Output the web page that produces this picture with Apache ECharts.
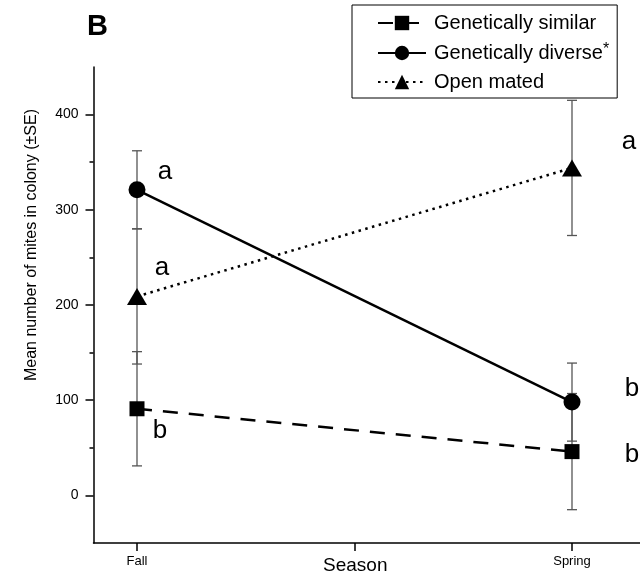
<!DOCTYPE html>
<html><head><meta charset="utf-8">
<script src="https://cdn.jsdelivr.net/npm/echarts@6/dist/echarts.min.js"></script>
<style>html,body{margin:0;padding:0;background:#fff}#c{width:640px;height:578px}</style>
</head><body><div id="c"></div>
<script>
// ---- data ----
const seasonPos = [1, 3];            // Fall, Spring
const seasonTicks = [1, 2, 3];
const seasonNames = {1: 'Fall', 3: 'Spring'};
const seriesNames = ['Genetically similar', 'Genetically diverse', 'Open mated'];
const similarMean = [91, 46];
const similarSE = [60, 61];
const diverseMean = [321, 98];
const diverseSE = [41, 41];
const openMean = [209, 344];
const openSE = [71, 71];
const similarLetters = ['b', 'b'];
const diverseLetters = ['a', 'b'];
const openLetters = ['a', 'a'];
const yMajorTicks = [0, 100, 200, 300, 400];
const yMinorTicks = [50, 150, 250, 350];

const FONT = '"Liberation Sans", Arial, sans-serif';

function lineData(means, letters, offsets) {
  return seasonPos.map((x, i) => ({
    value: [x, means[i]],
    label: {formatter: letters[i], offset: offsets[i]}
  }));
}
function errData(means, ses) {
  return seasonPos.map((x, i) => [x, means[i] - ses[i], means[i] + ses[i]]);
}
function errSeries(means, ses) {
  return {
    type: 'custom', silent: true, z: 1,
    renderItem: (params, api) => {
      const x = api.value(0), lo = api.value(1), hi = api.value(2);
      const p1 = api.coord([x, hi]), p2 = api.coord([x, lo]);
      const w = 5, st = {stroke: '#555', lineWidth: 1.3};
      return {type: 'group', children: [
        {type: 'line', shape: {x1: p1[0], y1: p1[1], x2: p2[0], y2: p2[1]}, style: st},
        {type: 'line', shape: {x1: p1[0] - w, y1: p1[1], x2: p1[0] + w, y2: p1[1]}, style: st},
        {type: 'line', shape: {x1: p2[0] - w, y1: p2[1], x2: p2[0] + w, y2: p2[1]}, style: st}
      ]};
    },
    encode: {x: 0, y: [1, 2]},
    data: errData(means, ses)
  };
}
const baseLabel = {show: true, position: 'inside', fontSize: 26, color: '#000', fontFamily: FONT};

const option = {
  animation: false,
  backgroundColor: '#fff',
  textStyle: {fontFamily: FONT},
  title: {text: 'B', left: 82, top: 7, textStyle: {fontSize: 29, fontWeight: 'bold', color: '#000', fontFamily: FONT}},
  legend: {
    data: seriesNames, orient: 'vertical', left: 352, top: 5,
    backgroundColor: '#fff', borderColor: '#000', borderWidth: 1,
    padding: [8, 8, 6, 25], itemGap: 9, itemWidth: 48, itemHeight: 18,
    textStyle: {fontSize: 20, color: '#000', fontFamily: FONT, padding: [0, 0, 0, 3],
      rich: {sup: {fontSize: 16, verticalAlign: 'top', padding: [0, 0, 6, 0], fontFamily: FONT}}},
    formatter: n => n === 'Genetically diverse' ? n + '{sup|*}' : n
  },
  grid: {left: 93.5, width: 565.5, top: 67, height: 476, outerBoundsMode: 'none', containLabel: false},
  xAxis: {
    type: 'value', min: 0.8, max: 3.4,
    name: 'Season', nameLocation: 'middle', nameGap: 13, nameMoveOverlap: false,
    nameTextStyle: {fontSize: 19, color: '#000', padding: [0, 42, 0, 0]},
    axisLine: {onZero: false, lineStyle: {color: '#000', width: 1.5}},
    axisTick: {customValues: seasonTicks, length: 8, lineStyle: {color: '#000', width: 1.5}},
    axisLabel: {customValues: seasonPos, formatter: v => seasonNames[v] || '', fontSize: 13, color: '#000', margin: 12},
    splitLine: {show: false}
  },
  yAxis: [{
    type: 'value', min: -50, max: 450,
    name: 'Mean number of mites in colony (\u00b1SE)', nameLocation: 'middle', nameGap: 54, nameMoveOverlap: false,
    nameTextStyle: {fontSize: 16, color: '#000', padding: [0, 0, 0, 120]},
    axisLine: {show: true, onZero: false, lineStyle: {color: '#000', width: 1.5}},
    axisTick: {show: true, customValues: yMajorTicks, length: 8, lineStyle: {color: '#000', width: 1.5}},
    axisLabel: {customValues: yMajorTicks, fontSize: 14, color: '#000', margin: 15},
    splitLine: {show: false}
  }, {
    type: 'value', min: -50, max: 450, position: 'left',
    axisLine: {show: false, onZero: false},
    axisTick: {show: true, customValues: yMinorTicks, length: 4, lineStyle: {color: '#000', width: 1.5}},
    axisLabel: {show: false},
    splitLine: {show: false}
  }],
  series: [
    errSeries(similarMean, similarSE),
    errSeries(diverseMean, diverseSE),
    errSeries(openMean, openSE),
    {
      name: seriesNames[0], type: 'line', z: 3,
      symbol: 'rect', symbolSize: 15,
      lineStyle: {color: '#000', width: 2.5, type: [15, 11]},
      itemStyle: {color: '#000'},
      label: baseLabel,
      data: lineData(similarMean, similarLetters, [[23, 22], [60, 3]])
    },
    {
      name: seriesNames[1], type: 'line', z: 3,
      symbol: 'circle', symbolSize: 17,
      lineStyle: {color: '#000', width: 2.5, type: 'solid'},
      itemStyle: {color: '#000'},
      label: baseLabel,
      data: lineData(diverseMean, diverseLetters, [[28, -18], [60, -13]])
    },
    {
      name: seriesNames[2], type: 'line', z: 3,
      symbol: 'triangle', symbolSize: [20, 17],
      lineStyle: {color: '#000', width: 2.5, type: [2.5, 4.5]},
      itemStyle: {color: '#000'},
      label: baseLabel,
      data: lineData(openMean, openLetters, [[25, -29], [57, -26]])
    }
  ]
};
echarts.init(document.getElementById('c')).setOption(option);
</script></body></html>
